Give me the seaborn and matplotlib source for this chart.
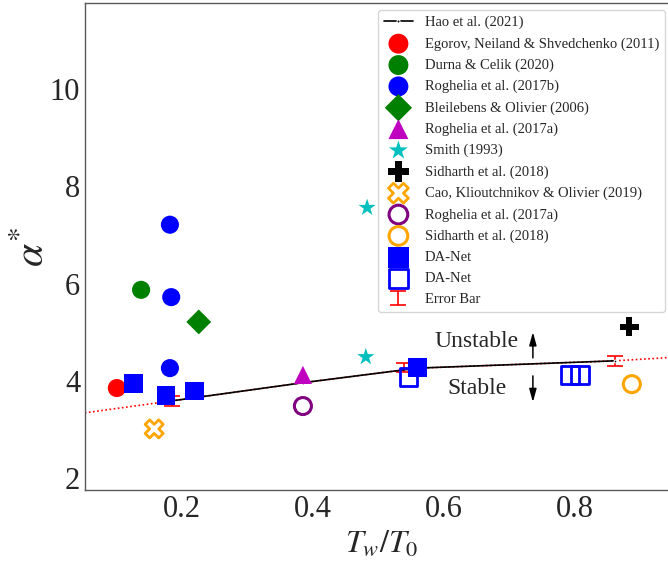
import matplotlib
matplotlib.use("Agg")
import matplotlib.pyplot as plt
import seaborn as sns

# data
hao_x = [0.187, 0.385, 0.56, 0.861]
hao_y = [3.59, 3.96, 4.26, 4.41]
fit_x = [0.052, 0.187, 0.385, 0.56, 0.861, 0.96]
fit_y = [3.34, 3.59, 3.96, 4.26, 4.41, 4.49]
err_x = [0.185, 0.539, 0.861]
err_y = [3.59, 4.27, 4.41]
err_e = [0.10, 0.10, 0.10]

egorov_x, egorov_y = [0.101], [3.85]
durna_x, durna_y = [0.138], [5.87]
rog17b_x, rog17b_y = [0.182, 0.184, 0.182], [7.21, 5.72, 4.26]
bleil_x, bleil_y = [0.226], [5.21]
rog17a_x, rog17a_y = [0.385], [4.12]
smith_x, smith_y = [0.483, 0.481], [7.56, 4.49]
sidh_x, sidh_y = [0.883], [5.11]
cao_x, cao_y = [0.158], [3.01]
rog17a_open_x, rog17a_open_y = [0.385], [3.48]
sidh_open_x, sidh_open_y = [0.887], [3.93]
danet_x, danet_y = [0.127, 0.176, 0.220, 0.560], [3.95, 3.69, 3.79, 4.28]
danet_open_x, danet_open_y = [0.546, 0.793, 0.808], [4.08, 4.12, 4.12]

sns.set_style("white")
plt.rcParams["font.family"] = ["Liberation Serif", "DejaVu Serif"]
plt.rcParams["mathtext.fontset"] = "stix"

fig = plt.figure(figsize=(6.68, 5.65), dpi=100)
ax = fig.add_axes([85 / 668, 75 / 565, 594 / 668, 487 / 565])

sns.lineplot(x=hao_x, y=hao_y, color="k", lw=1.2, marker=".", markersize=4,
             label="Hao et al. (2021)", sort=False, ax=ax, zorder=3)
sns.lineplot(x=fit_x, y=fit_y, color="r", lw=1.2, linestyle=(0, (1, 1.5)),
             sort=False, ax=ax, zorder=1, legend=False)

filled = [
    (egorov_x, egorov_y, "o", "r", 170, "Egorov, Neiland & Shvedchenko (2011)"),
    (durna_x, durna_y, "o", "g", 170, "Durna & Celik (2020)"),
    (rog17b_x, rog17b_y, "o", "b", 170, "Roghelia et al. (2017b)"),
    (bleil_x, bleil_y, "D", "g", 160, "Bleilebens & Olivier (2006)"),
    (rog17a_x, rog17a_y, "^", "m", 170, "Roghelia et al. (2017a)"),
    (smith_x, smith_y, "*", "c", 170, "Smith (1993)"),
    (sidh_x, sidh_y, "P", "k", 190, "Sidharth et al. (2018)"),
]
for xs, ys, mk, col, size, lab in filled:
    sns.scatterplot(x=xs, y=ys, marker=mk, color=col, s=size, linewidth=0,
                    edgecolor="none", label=lab, ax=ax, zorder=4)

opened = [
    (cao_x, cao_y, "X", "orange", 170, 2.0, "Cao, Klioutchnikov & Olivier (2019)"),
    (rog17a_open_x, rog17a_open_y, "o", "purple", 150, 2.2, "Roghelia et al. (2017a)"),
    (sidh_open_x, sidh_open_y, "o", "orange", 150, 2.2, "Sidharth et al. (2018)"),
]
for xs, ys, mk, col, size, lw, lab in opened:
    sns.scatterplot(x=xs, y=ys, marker=mk, facecolor="none", edgecolor=col,
                    s=size, linewidth=lw, label=lab, ax=ax, zorder=4)

sns.scatterplot(x=danet_x, y=danet_y, marker="s", color="b", s=185, linewidth=0,
                edgecolor="none", label="DA-Net", ax=ax, zorder=5)
sns.scatterplot(x=danet_open_x, y=danet_open_y, marker="s", facecolor="none",
                edgecolor="b", s=160, linewidth=2, label="DA-Net", ax=ax, zorder=4)

ax.errorbar(err_x, err_y, yerr=err_e, fmt="none", ecolor="r", elinewidth=1.2,
            capsize=6, capthick=1.2, label="Error Bar", zorder=2)

ax.text(0.650, 4.80, "Unstable", fontsize=17, ha="center", va="center")
ax.text(0.650, 3.84, "Stable", fontsize=17, ha="center", va="center")
arrow = dict(arrowstyle="-|>,head_width=0.18,head_length=0.65", color="k",
             lw=1.1, mutation_scale=12, shrinkA=0, shrinkB=0)
ax.annotate("", xy=(0.736, 5.00), xytext=(0.736, 4.47), arrowprops=arrow)
ax.annotate("", xy=(0.736, 3.56), xytext=(0.736, 4.10), arrowprops=arrow)

ax.set_xlim(0.0524, 0.959)
ax.set_ylim(1.753, 11.77)
ax.set_xticks([0.2, 0.4, 0.6, 0.8])
ax.set_yticks([2, 4, 6, 8, 10])
ax.tick_params(direction="in", length=3, width=0.8, color="0.35", labelsize=22)
for sp in ax.spines.values():
    sp.set_color("0.35")
    sp.set_linewidth(1.0)
ax.set_xlabel(r"$T_w/T_0$", fontsize=23)
ax.set_ylabel(r"$\alpha^{*}$", fontsize=30, labelpad=-2)

ax.legend(loc="upper left", bbox_to_anchor=(378 / 668, 1 - 10 / 565),
          bbox_transform=fig.transFigure, borderaxespad=0, fontsize=10.5,
          labelspacing=0.54, markerscale=1.1, frameon=True)

fig.savefig("out.png", dpi=100)
